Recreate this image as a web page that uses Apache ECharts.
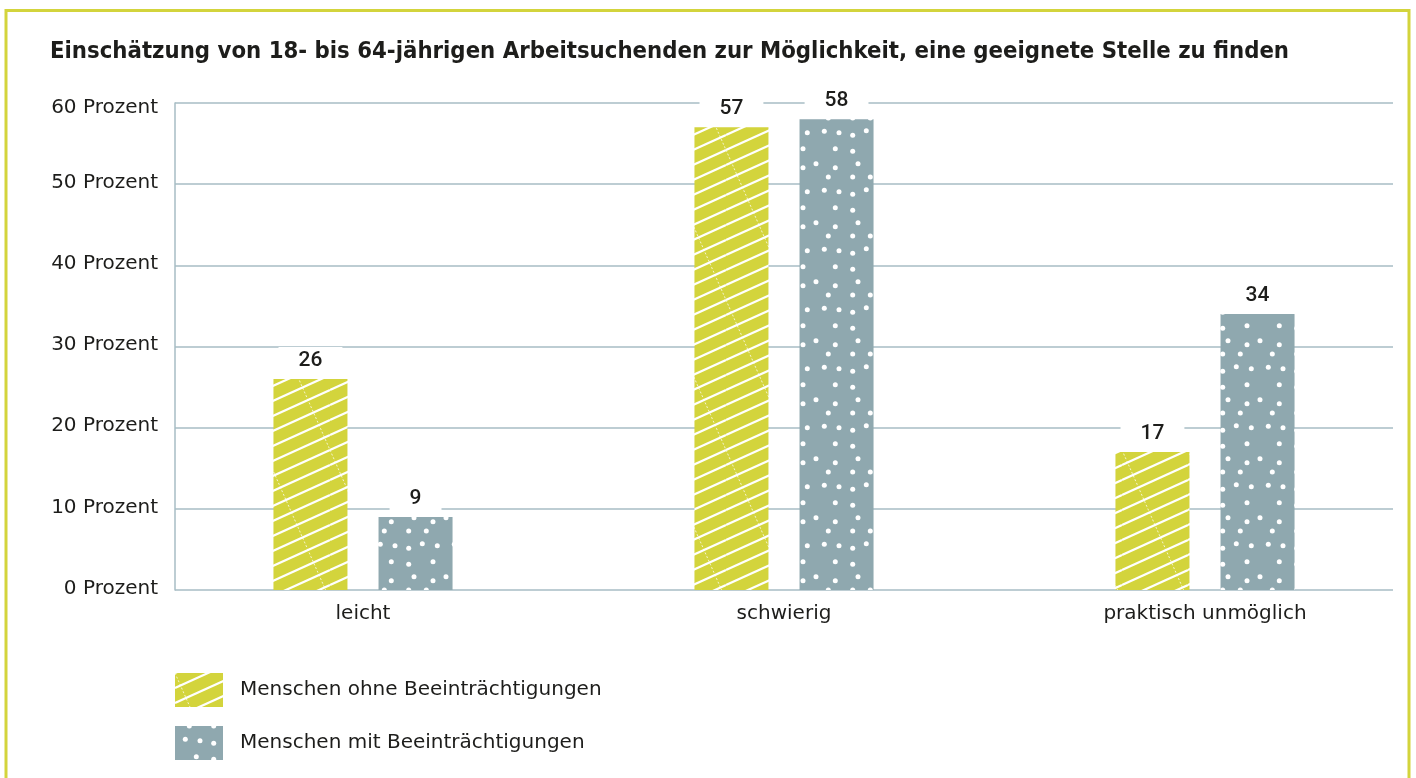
<!DOCTYPE html>
<html>
<head>
<meta charset="utf-8">
<script src="https://cdn.jsdelivr.net/npm/echarts@6/dist/echarts.min.js"></script>
<style>
html,body{margin:0;padding:0;background:#fff;}
#c{width:1416px;height:778px;}
</style>
</head>
<body>
<div id="c"></div>
<script>
// ---- data ----
const titleText = 'Einschätzung von 18- bis 64-jährigen Arbeitsuchenden zur Möglichkeit, eine geeignete Stelle zu finden';
const categories = ['leicht', 'schwierig', 'praktisch unmöglich'];
const seriesNames = ['Menschen ohne Beeinträchtigungen', 'Menschen mit Beeinträchtigungen'];
const ohneValues = [26, 57, 17];
const mitValues = [9, 58, 34];
const yMin = 0, yMax = 60, yStep = 10;
const ySuffix = ' Prozent';

// ---- patterns ----
const YELLOW = '#d3d43c';
const GREY = '#8fa8af';
function hatchPattern() {
  const c = document.createElement('canvas');
  c.width = 66; c.height = 150;
  const g = c.getContext('2d');
  g.fillStyle = YELLOW; g.fillRect(0, 0, 66, 150);
  g.strokeStyle = '#ffffff'; g.lineWidth = 2.2;
  for (let j = -1; j <= 13; j++) {
    g.beginPath(); g.moveTo(0, 15 * j); g.lineTo(66, 15 * j - 30); g.stroke();
  }
  g.lineWidth = 0.9; g.setLineDash([2, 2]); g.strokeStyle = 'rgba(255,255,255,0.85)';
  for (let k = -1; k <= 1; k++) {
    g.beginPath(); g.moveTo(66 * k, 0); g.lineTo(66 * k + 66, 150); g.stroke();
  }
  return c;
}
function dotPattern() {
  const c = document.createElement('canvas');
  c.width = 74; c.height = 59;
  const g = c.getContext('2d');
  g.fillStyle = GREY; g.fillRect(0, 0, 74, 59);
  g.fillStyle = '#ffffff';
  const pts = [[14.3,0],[38.7,0],[56.3,0],
    [10.3,13.3],[25,14.7],[38.7,17.3],[52.3,12.7],[67.3,14.7],
    [21.3,30.7],[38.7,33.3],[63,30.7],
    [2,45.7],[21.3,49.7],[44,45.7],[63,49.7]];
  pts.forEach(p => {
    for (let dx = -74; dx <= 74; dx += 74) for (let dy = -59; dy <= 59; dy += 59) {
      g.beginPath(); g.arc(p[0] + dx, p[1] + dy, 2.5, 0, Math.PI * 2); g.fill();
    }
  });
  return c;
}
const hatch = { image: hatchPattern(), repeat: 'repeat' };
const dots = { image: dotPattern(), repeat: 'repeat' };

const FONT = '"DejaVu Sans"';
const TFONT = '"DejaVu Sans Condensed"';
const NFONT = 'Roboto';
const TXT = '#1d1d1b';
const GRIDC = '#a7bcc4';

const chart = echarts.init(document.getElementById('c'), null, { renderer: 'canvas' });
const labelCfg = {
  show: true, position: 'top', distance: 5,
  color: TXT, fontFamily: NFONT, fontSize: 21, fontWeight: 500,
  backgroundColor: '#ffffff', padding: [3, 20, 3, 20]
};
chart.setOption({
  animation: false,
  backgroundColor: '#ffffff',
  title: {
    text: titleText, left: 50, top: 40, padding: 0,
    textStyle: { fontFamily: TFONT, fontSize: 23.7, fontWeight: 'bold', color: TXT, lineHeight: 24 }
  },
  graphic: [{
    type: 'rect', shape: { x: 6, y: 10.5, width: 1403, height: 820 },
    style: { fill: 'none', stroke: YELLOW, lineWidth: 3 }, silent: true, z: 100
  }],
  legend: {
    orient: 'vertical', left: 175, top: 673, padding: 0,
    itemWidth: 48, itemHeight: 34, itemGap: 19, icon: 'rect',
    textStyle: { fontFamily: FONT, fontSize: 20, color: TXT, padding: [0, 0, 0, 12] },
    data: seriesNames
  },
  grid: [
    { left: 152.5, right: 0.5, top: 103, bottom: 188 },
    { left: 175, right: 23, top: 103, bottom: 188 }
  ],
  xAxis: [
    { type: 'category', gridIndex: 0, data: categories,
      axisLine: { show: false }, axisTick: { show: false },
      axisLabel: { margin: 14, fontFamily: FONT, fontSize: 20, color: TXT } },
    { type: 'value', gridIndex: 1, show: false, min: 0, max: 1 }
  ],
  yAxis: [
    { type: 'value', gridIndex: 0, min: yMin, max: yMax, show: false, splitLine: { show: false } },
    { type: 'value', gridIndex: 1, min: yMin, max: yMax, interval: yStep,
      axisLine: { show: true, lineStyle: { color: GRIDC, width: 1.5 } },
      axisTick: { show: false },
      splitLine: { show: true, lineStyle: { color: GRIDC, width: 1.5 } },
      axisLabel: {
        margin: 17, fontFamily: FONT, fontSize: 20, color: TXT,
        formatter: v => v === yMax ? '{t|' + v + ySuffix + '}' : '{n|' + v + ySuffix + '}',
        rich: {
          n: { fontFamily: FONT, fontSize: 20, color: TXT, padding: [0, 0, 3, 0] },
          t: { fontFamily: FONT, fontSize: 20, color: TXT, padding: [9, 0, 0, 0] }
        }
      } }
  ],
  series: [
    { name: seriesNames[0], type: 'bar', xAxisIndex: 0, yAxisIndex: 0, data: ohneValues,
      barWidth: 74, barGap: '42%', itemStyle: { color: hatch }, label: labelCfg },
    { name: seriesNames[1], type: 'bar', xAxisIndex: 0, yAxisIndex: 0, data: mitValues,
      barWidth: 74, barGap: '42%', itemStyle: { color: dots }, label: labelCfg }
  ]
});
</script>
</body>
</html>
